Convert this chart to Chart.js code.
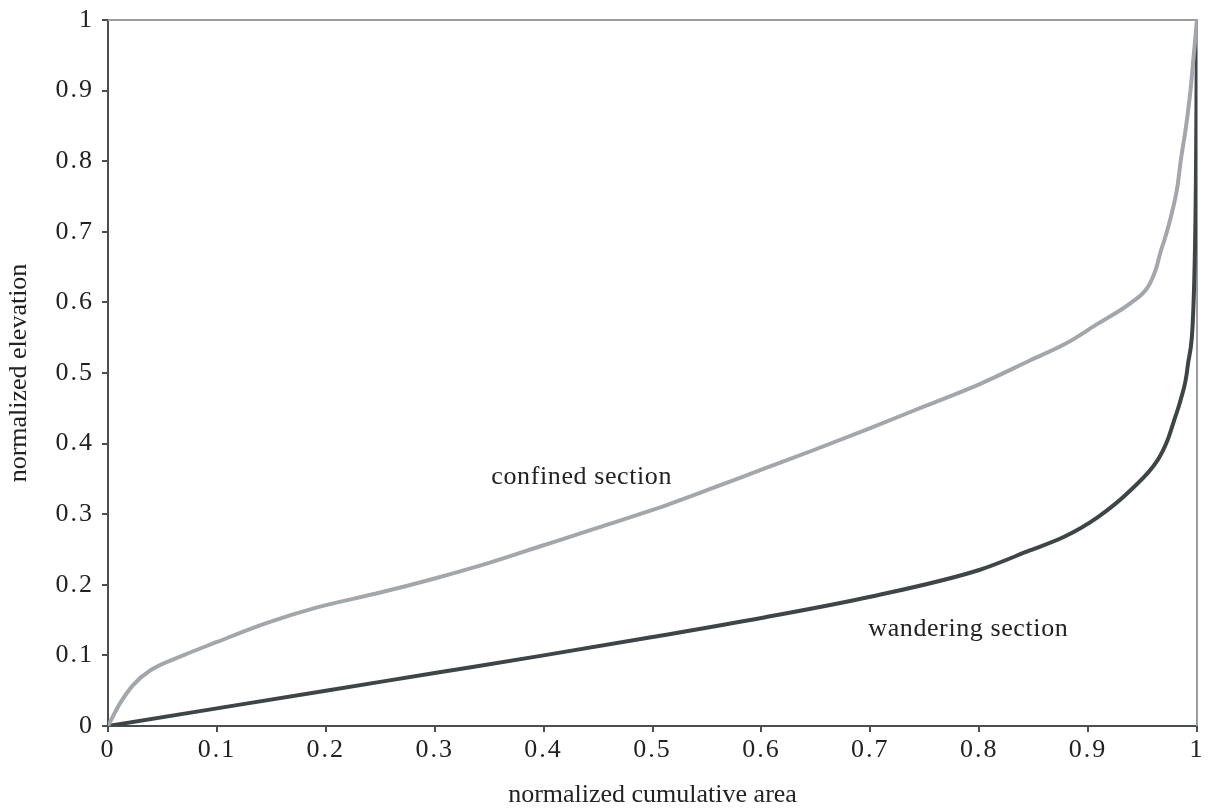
<!DOCTYPE html>
<html lang="en">
<head>
  <meta charset="UTF-8">
  <title>Hypsometric curves</title>
  <script src="https://cdn.jsdelivr.net/npm/chart.js"></script>
  <style>
    html, body { margin: 0; padding: 0; background: #fff; }
    #wrap { width: 1209px; height: 808px; }
  </style>
</head>
<body>
  <div id="wrap"><canvas id="curveChart" width="1209" height="808"></canvas></div>

  <script>
    // normalized cumulative area (x) vs normalized elevation (y)
    const confinedX = [0, 0.005, 0.011, 0.023, 0.039, 0.069, 0.1, 0.146, 0.192, 0.25, 0.3, 0.35, 0.4, 0.45, 0.5, 0.55, 0.6, 0.65, 0.7, 0.75, 0.8, 0.847, 0.88, 0.909, 0.939, 0.955, 0.962, 0.967, 0.970, 0.976, 0.982, 0.985, 0.990, 0.994, 0.997, 1.0];
    const confinedY = [0, 0.015, 0.032, 0.058, 0.079, 0.100, 0.119, 0.146, 0.168, 0.189, 0.209, 0.231, 0.256, 0.281, 0.306, 0.334, 0.363, 0.392, 0.422, 0.453, 0.484, 0.518, 0.542, 0.570, 0.599, 0.622, 0.646, 0.674, 0.688, 0.721, 0.764, 0.800, 0.850, 0.900, 0.950, 1.0];

    const wanderingX = [0, 0.1, 0.2, 0.3, 0.4, 0.5, 0.6, 0.7, 0.8, 0.847, 0.878, 0.909, 0.939, 0.964, 0.973, 0.979, 0.985, 0.9914, 0.9975, 0.999, 0.9995, 1.0];
    const wanderingY = [0, 0.025, 0.05, 0.075, 0.1, 0.126, 0.153, 0.183, 0.221, 0.249, 0.268, 0.296, 0.334, 0.377, 0.405, 0.433, 0.462, 0.509, 0.632, 0.773, 0.88, 1.0];

    const xTicks = [0, 0.1, 0.2, 0.3, 0.4, 0.5, 0.6, 0.7, 0.8, 0.9, 1];
    const yTicks = [0, 0.1, 0.2, 0.3, 0.4, 0.5, 0.6, 0.7, 0.8, 0.9, 1];

    // in-plot labels, placed in data coordinates
    const curveLabels = [
      { text: 'confined section', x: 0.435, y: 0.353 },
      { text: 'wandering section', x: 0.79, y: 0.137 }
    ];

    const toPoints = (xs, ys) => xs.map((x, i) => ({ x: x, y: ys[i] }));
    const serif = "'Liberation Serif', 'DejaVu Serif', serif";

    // light frame on the top and right of the plot area
    const frame = {
      id: 'frame',
      beforeDatasetsDraw(chart) {
        const { ctx, chartArea: a } = chart;
        ctx.save();
        ctx.strokeStyle = '#9a9ea2';
        ctx.lineWidth = 2;
        ctx.beginPath();
        ctx.moveTo(a.left, a.top);
        ctx.lineTo(a.right, a.top);
        ctx.lineTo(a.right, a.bottom);
        ctx.stroke();
        ctx.restore();
      }
    };

    const textLabels = {
      id: 'textLabels',
      afterDatasetsDraw(chart) {
        const { ctx, scales } = chart;
        ctx.save();
        ctx.fillStyle = '#222';
        ctx.font = '26px ' + serif;
        ctx.letterSpacing = '0.6px';
        ctx.textAlign = 'center';
        ctx.textBaseline = 'middle';
        curveLabels.forEach(l => {
          ctx.fillText(l.text, scales.x.getPixelForValue(l.x), scales.y.getPixelForValue(l.y));
        });
        ctx.restore();
      }
    };

    // tick numbers are set a little wider than normal
    function spacedLabels(scale) {
      if (scale._spaced) return;
      const orig = scale.drawLabels;
      scale.drawLabels = function (area) {
        this.ctx.save();
        this.ctx.letterSpacing = '2px';
        orig.call(this, area);
        this.ctx.restore();
      };
      scale._spaced = true;
    }

    new Chart(document.getElementById('curveChart'), {
      type: 'scatter',
      data: {
        datasets: [
          {
            label: 'confined section',
            data: toPoints(confinedX, confinedY),
            showLine: true,
            borderColor: '#a3a7ab',
            borderWidth: 4,
            pointRadius: 0,
            cubicInterpolationMode: 'monotone'
          },
          {
            label: 'wandering section',
            data: toPoints(wanderingX, wanderingY),
            showLine: true,
            borderColor: '#3e4546',
            borderWidth: 4,
            pointRadius: 0,
            cubicInterpolationMode: 'monotone'
          }
        ]
      },
      options: {
        responsive: false,
        animation: false,
        layout: { padding: { left: 4, right: 12, top: 20, bottom: 0 } },
        plugins: {
          legend: { display: false },
          tooltip: { enabled: false }
        },
        scales: {
          x: {
            type: 'linear',
            min: 0,
            max: 1,
            afterBuildTicks: s => { s.ticks = xTicks.map(v => ({ value: v })); },
            afterFit: s => { s.height = 82; s.paddingLeft = 0; s.paddingRight = 0; },
            afterUpdate: spacedLabels,
            border: { display: true, color: '#4a4e52', width: 2 },
            grid: { drawOnChartArea: false, drawTicks: true, tickLength: 6, color: '#4a4e52', lineWidth: 2 },
            ticks: {
              color: '#222',
              padding: 3,
              maxRotation: 0,
              font: { family: serif, size: 26 },
              callback: v => String(v)
            },
            title: {
              display: true,
              text: 'normalized cumulative area',
              color: '#222',
              padding: { top: 0, bottom: -3 },
              font: { family: serif, size: 26 }
            }
          },
          y: {
            type: 'linear',
            min: 0,
            max: 1,
            afterBuildTicks: s => { s.ticks = yTicks.map(v => ({ value: v })); },
            afterFit: s => { s.width = 104; s.paddingTop = 0; s.paddingBottom = 0; },
            afterUpdate: spacedLabels,
            border: { display: true, color: '#4a4e52', width: 2 },
            grid: { drawOnChartArea: false, drawTicks: true, tickLength: 6, color: '#4a4e52', lineWidth: 2 },
            ticks: {
              color: '#222',
              padding: 8,
              font: { family: serif, size: 26 },
              callback: v => String(v)
            },
            title: {
              display: true,
              text: 'normalized elevation',
              color: '#222',
              padding: { top: 0, bottom: 0 },
              font: { family: serif, size: 26 }
            }
          }
        }
      },
      plugins: [frame, textLabels]
    });
  </script>
</body>
</html>
